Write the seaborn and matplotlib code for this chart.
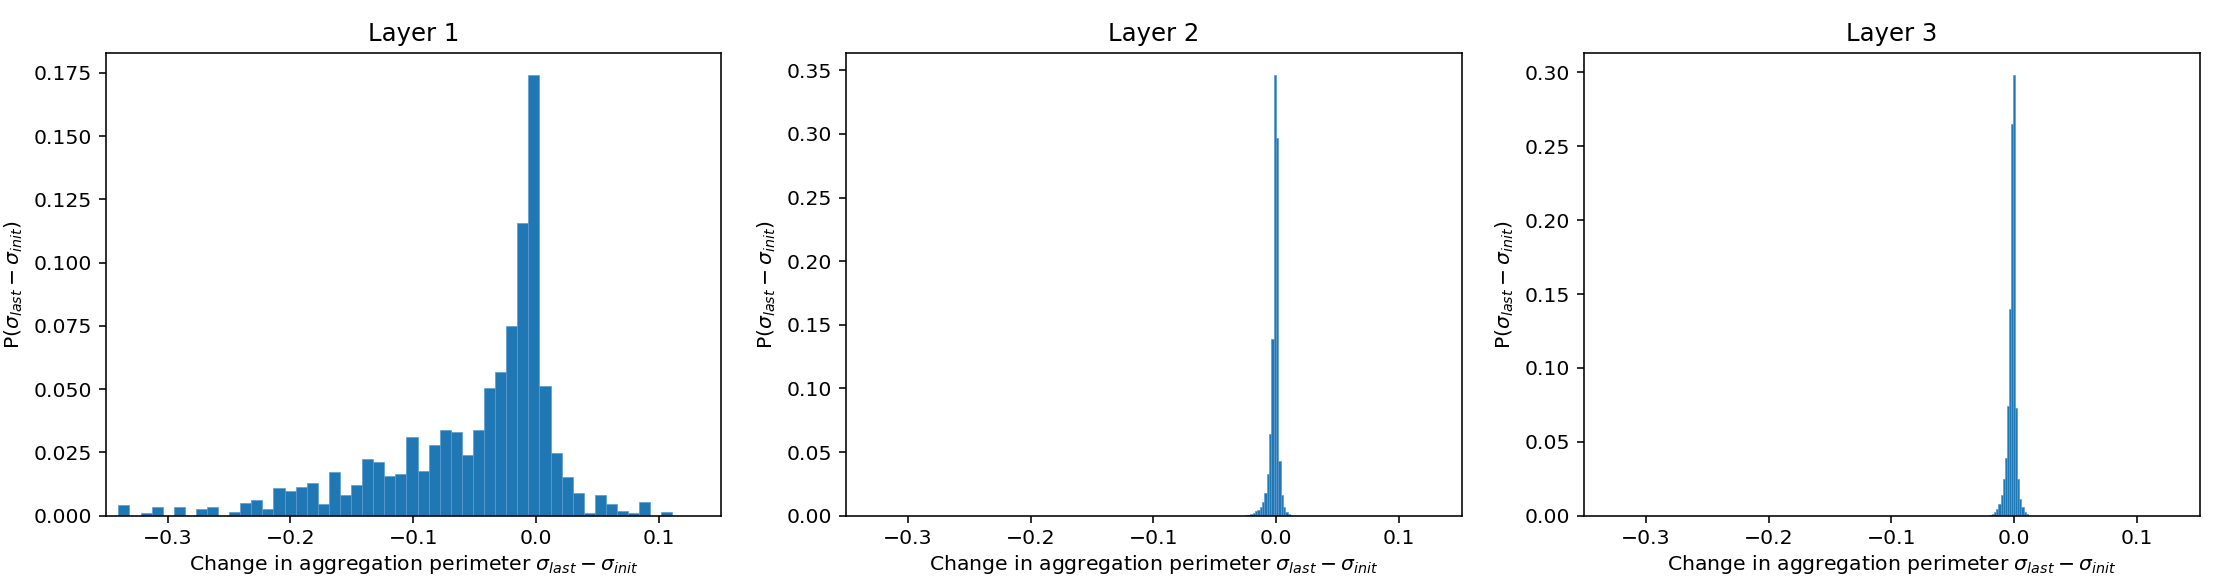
import numpy as np
import pandas as pd
import matplotlib
matplotlib.use("Agg")
import matplotlib.pyplot as plt
import seaborn as sns

# ---------------- data ----------------
titles = ["Layer 1", "Layer 2", "Layer 3"]

# Layer 1: 50 bins, probability per bin
layer1_heights = [
    0.0042, 0.0, 0.0009, 0.0036, 0.0, 0.0033, 0.0, 0.0028, 0.0033, 0.0,
    0.0016, 0.0051, 0.0061, 0.0026, 0.0108, 0.0098, 0.0115, 0.0129, 0.0045, 0.0171,
    0.0082, 0.0121, 0.0223, 0.0211, 0.0157, 0.0163, 0.0311, 0.0178, 0.0280, 0.0339,
    0.0331, 0.0240, 0.0338, 0.0504, 0.0566, 0.0748, 0.1155, 0.1740, 0.0512, 0.0247,
    0.0153, 0.0090, 0.0009, 0.0082, 0.0048, 0.0017, 0.0012, 0.0053, 0.0, 0.0016,
]
layer1_bin_start = -0.3402
layer1_bin_width = 0.00903

# Layer 2: narrow bins around zero
layer2_heights = [
    0.0005, 0.0008, 0.0013, 0.0020, 0.0037, 0.0045, 0.0070, 0.0105, 0.0180, 0.0325,
    0.0640, 0.1390, 0.3460, 0.2970, 0.0430, 0.0160, 0.0070, 0.0030, 0.0010, 0.0005,
]
layer2_bin_start = -0.0021 - 12 * 0.0019
layer2_bin_width = 0.0019

# Layer 3: narrow bins around zero
layer3_heights = [
    0.0007, 0.0014, 0.0028, 0.0046, 0.0080, 0.0138, 0.0250, 0.0390, 0.0745, 0.1400,
    0.2650, 0.2980, 0.0730, 0.0250, 0.0115, 0.0057, 0.0023, 0.0009,
]
layer3_bin_start = -0.0009 - 11 * 0.0017
layer3_bin_width = 0.0017

layers = [
    (layer1_heights, layer1_bin_start, layer1_bin_width),
    (layer2_heights, layer2_bin_start, layer2_bin_width),
    (layer3_heights, layer3_bin_start, layer3_bin_width),
]

xlabel = r"Change in aggregation perimeter $\sigma_{last} - \sigma_{init}$"
ylabel = r"P($\sigma_{last} - \sigma_{init}$)"

# ---------------- style ----------------
plt.rcParams.update({
    "font.family": ["DejaVu Sans"],
    "font.size": 14.7,
    "axes.titlesize": 17.6,
    "axes.labelsize": 14.7,
    "xtick.labelsize": 14.7,
    "ytick.labelsize": 14.7,
    "axes.linewidth": 1.15,
    "xtick.major.size": 4.9,
    "ytick.major.size": 4.9,
    "xtick.major.width": 1.15,
    "ytick.major.width": 1.15,
    "xtick.major.pad": 5.0,
    "ytick.major.pad": 5.0,
    "mathtext.fontset": "dejavusans",
})

W, H = 2216, 581
fig = plt.figure(figsize=(W / 100, H / 100), dpi=100)

ax_lefts = [105.7, 846.0, 1584.0]
ax_width = 615.5
ax_top, ax_bottom = 53.3, 515.7

bar_color = "#1f77b4"
edge_color = "#5b9bd0"

for i, (heights, start, width) in enumerate(layers):
    ax = fig.add_axes([ax_lefts[i] / W, 1 - ax_bottom / H,
                       ax_width / W, (ax_bottom - ax_top) / H])
    n = len(heights)
    edges = [float(start + width * k) for k in range(n + 1)]
    centers = [0.5 * (edges[k] + edges[k + 1]) for k in range(n)]
    df = pd.DataFrame({"x": centers, "w": heights})
    sns.histplot(data=df, x="x", weights="w", bins=edges, stat="count",
                 ax=ax, color=bar_color, alpha=1.0,
                 edgecolor=edge_color, linewidth=0.5)
    ax.set_xlim(-0.3505, 0.151)
    ax.set_ylim(0, max(heights) * 1.05)
    ax.set_title(titles[i], pad=9)
    ax.set_xlabel(xlabel, labelpad=3)
    ax.set_ylabel(ylabel, labelpad=6)
    ax.set_xticks([-0.3, -0.2, -0.1, 0.0, 0.1])
    ax.set_xticklabels(["\u22120.3", "\u22120.2", "\u22120.1", "0.0", "0.1"])

fig.savefig("out.png", dpi=100, facecolor="white")
